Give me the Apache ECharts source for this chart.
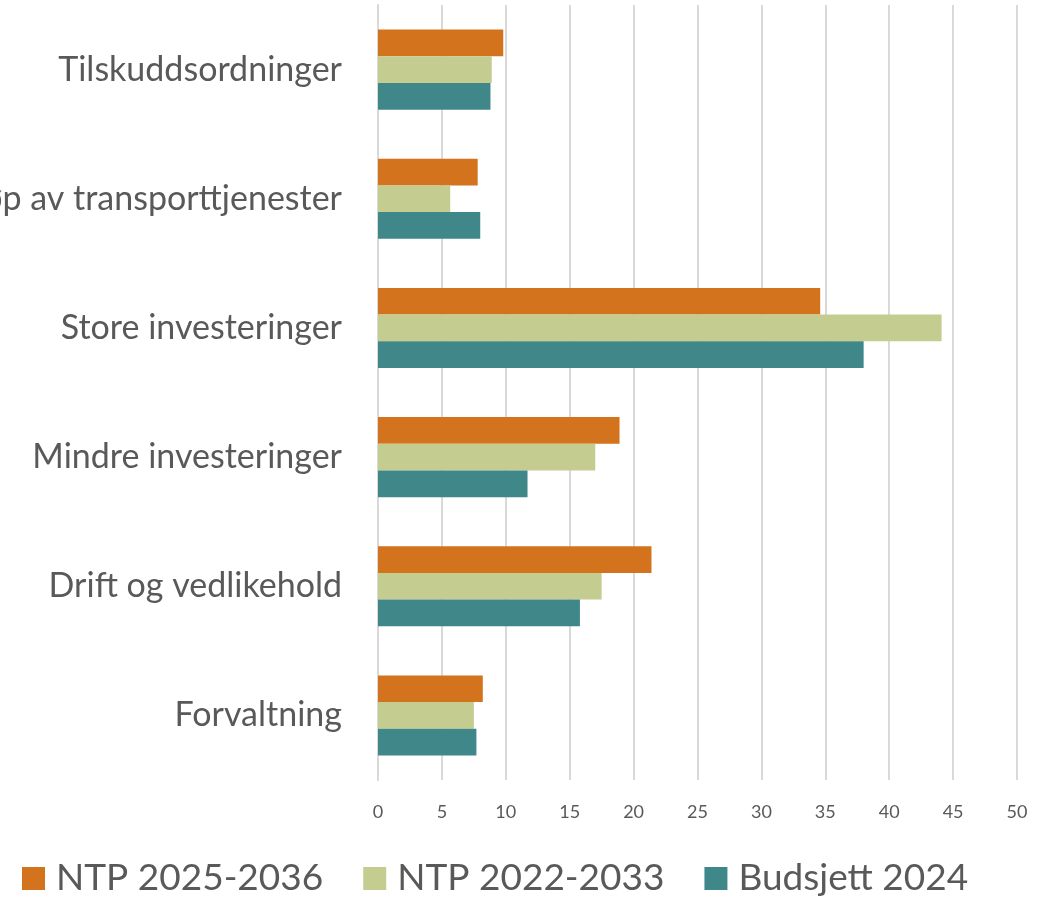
<!DOCTYPE html>
<html>
<head>
<meta charset="utf-8">
<script src="https://cdn.jsdelivr.net/npm/echarts@6/dist/echarts.min.js"></script>
<style>
  html, body { margin: 0; padding: 0; background: #fff; }
  #chart { width: 1050px; height: 900px; }
</style>
</head>
<body>
<div id="chart"></div>
<script>
// categories bottom -> top (category axis starts at the bottom)
const categories = ['Forvaltning', 'Drift og vedlikehold', 'Mindre investeringer',
  'Store investeringer', 'Kjøp av transporttjenester', 'Tilskuddsordninger'];
const seriesNames = ['NTP 2025-2036', 'NTP 2022-2033', 'Budsjett 2024'];
const ntp2025 = [8.2, 21.4, 18.9, 34.6, 7.8, 9.8];
const ntp2022 = [7.5, 17.5, 17.0, 44.1, 5.65, 8.9];
const budsjett = [7.7, 15.8, 11.7, 38.0, 8.0, 8.8];
const xTicks = [0, 5, 10, 15, 20, 25, 30, 35, 40, 45, 50];

const colors = ['#D4731D', '#C5CC8F', '#40878A'];
const textColor = '#595959';
const font = 'Lato, "Open Sans", sans-serif';

const chart = echarts.init(document.getElementById('chart'));

function bar(name, data, color) {
  return {
    name: name,
    type: 'bar',
    data: data,
    barGap: '0%',
    barCategoryGap: '38%',
    itemStyle: { color: color },
    animation: false
  };
}

chart.setOption({
  animation: false,
  grid: { left: 378, right: 33, top: 5, bottom: 120, containLabel: false, outerBoundsMode: 'none' },
  xAxis: {
    type: 'value',
    min: xTicks[0],
    max: xTicks[xTicks.length - 1],
    interval: 5,
    axisLine: { show: false },
    axisTick: { show: false },
    splitLine: { lineStyle: { color: '#D9D9D9', width: 2 } },
    axisLabel: { color: textColor, fontSize: 18, fontFamily: font, margin: 23 }
  },
  yAxis: {
    type: 'category',
    data: categories,
    axisLine: { lineStyle: { color: '#D9D9D9', width: 2 } },
    axisTick: { show: false },
    axisLabel: { color: textColor, fontSize: 34, fontFamily: font, margin: 36 }
  },
  legend: {
    data: seriesNames,
    left: 22,
    top: 860,
    padding: 0,
    icon: 'rect',
    itemWidth: 23,
    itemHeight: 23,
    itemGap: 40,
    textStyle: { color: textColor, fontSize: 37, fontFamily: font, padding: [0, 0, 0, 6] }
  },
  series: [
    bar(seriesNames[0], ntp2025, colors[0]),
    bar(seriesNames[1], ntp2022, colors[1]),
    bar(seriesNames[2], budsjett, colors[2])
  ]
});
</script>
</body>
</html>
